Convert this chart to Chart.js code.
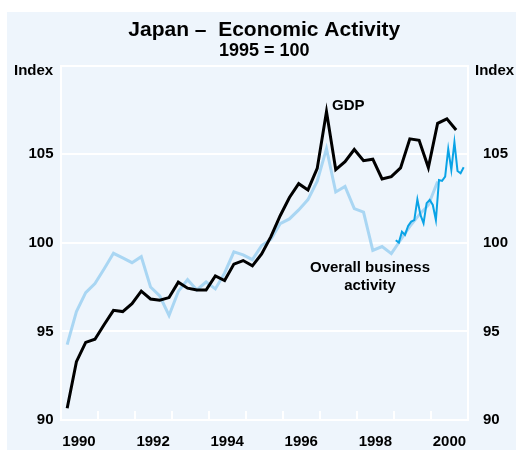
<!DOCTYPE html>
<html>
<head>
<meta charset="utf-8">
<script src="https://cdn.jsdelivr.net/npm/chart.js@4"></script>
<style>
  html, body { margin: 0; padding: 0; background: #fff; }
  canvas { display: block; }
</style>
</head>
<body>
<canvas id="chart" width="516" height="450"></canvas>
<script>
// Quarterly series start in 1990 Q1, the monthly series in January 1999
const firstQuarterYear = 1990;
const firstMonthYear = 1999;

// GDP, 1995 = 100, 1990 Q1 - 2000 Q3
const gdp = [
    90.66, 93.29, 94.38, 94.56,
    95.39, 96.19, 96.12, 96.57,
    97.27, 96.83, 96.76, 96.91,
    97.78, 97.44, 97.34, 97.34,
    98.13, 97.87, 98.80, 99.00,
    98.70, 99.37, 100.35, 101.53,
    102.56, 103.34, 102.99, 104.20,
    107.41, 104.13, 104.58, 105.27,
    104.64, 104.72, 103.61, 103.74,
    104.23, 105.87, 105.79, 104.25,
    106.75, 107.00, 106.37
];

// Overall business activity, quarterly, 1990 Q1 - 2000 Q1
const businessQuarterly = [
    94.26, 96.12, 97.19, 97.70,
    98.54, 99.41, 99.15, 98.88,
    99.22, 97.51, 97.00, 95.90,
    97.26, 97.92, 97.34, 97.79,
    97.40, 98.30, 99.49, 99.32,
    99.05, 99.85, 100.20, 101.08,
    101.35, 101.86, 102.44, 103.48,
    105.32, 102.87, 103.18, 101.93,
    101.74, 99.57, 99.79, 99.39,
    100.16, 100.93, 101.58, 102.14,
    103.46
];

// Overall business activity, monthly, Jan 1999 - Nov 2000
const businessMonthly = [
    100.15, 100.02, 100.63, 100.45, 100.95, 101.20,
    101.28, 102.46, 101.58, 101.11, 102.24, 102.42,
    102.14, 101.29, 103.55, 103.50, 103.74, 105.30,
    104.12, 105.68, 104.06, 103.93, 104.27
];

const yearTicks = [1990, 1991, 1992, 1993, 1994, 1995, 1996, 1997, 1998, 1999, 2000, 2001];
const yearLabels = [1990, 1992, 1994, 1996, 1998, 2000];
const indexTicks = [90, 95, 100, 105, 110];
const indexLabels = [90, 95, 100, 105];

const quarterPoints = values => values.map((v, i) => ({ x: firstQuarterYear + i / 4 + 0.18, y: v }));
const monthPoints = values => values.map((v, i) => ({ x: firstMonthYear + i / 12 + 0.05, y: v }));

const panel = "#eef5fc";
const family = 'Arial, "Liberation Sans", Helvetica, sans-serif';
const tickFont = { family: family, weight: "bold", size: 15 };

// light blue panel behind everything
const backdrop = {
    id: "backdrop",
    beforeDraw(chart) {
        const ctx = chart.ctx;
        ctx.save();
        ctx.fillStyle = "#ffffff";
        ctx.fillRect(0, 0, chart.width, chart.height);
        ctx.fillStyle = panel;
        ctx.fillRect(7, 12, chart.width - 7, chart.height - 12);
        ctx.restore();
    }
};

// short white year marks standing up from the bottom axis
const yearMarks = {
    id: "yearMarks",
    afterDatasetsDraw(chart) {
        const ctx = chart.ctx;
        const x = chart.scales.x;
        const bottom = chart.chartArea.bottom;
        ctx.save();
        ctx.strokeStyle = "#fff";
        ctx.lineWidth = 2;
        ctx.beginPath();
        yearTicks.forEach(v => {
            const px = Math.round(x.getPixelForValue(v));
            ctx.moveTo(px, bottom);
            ctx.lineTo(px, bottom - 9);
        });
        ctx.stroke();
        ctx.restore();
    }
};

// axis units and series names written on the chart
const notes = {
    id: "notes",
    afterDraw(chart) {
        const ctx = chart.ctx;
        ctx.save();
        ctx.fillStyle = "#000";
        ctx.font = "bold 15px " + family;
        ctx.textBaseline = "middle";
        ctx.textAlign = "left";
        ctx.fillText("Index", 14, 71);
        ctx.fillText("Index", 475, 71);
        ctx.fillText("GDP", 332, 106);
        ctx.textAlign = "center";
        ctx.fillText("Overall business", 370, 268);
        ctx.fillText("activity", 370, 286);
        ctx.restore();
    }
};

const yAxis = (position, width) => ({
    position: position,
    min: 90,
    max: 110,
    afterBuildTicks: s => { s.ticks = indexTicks.map(v => ({ value: v })); },
    afterFit: s => { s.width = width; },
    ticks: {
        color: "#000",
        font: tickFont,
        padding: 7,
        callback: v => indexLabels.includes(v) ? String(v) : ""
    },
    grid: position === "left"
        ? { color: "#fff", lineWidth: 2, drawTicks: false }
        : { display: false },
    border: { color: "#fff", width: 2 }
});

new Chart(document.getElementById("chart").getContext("2d"), {
    type: "line",
    data: {
        datasets: [{
            label: "GDP",
            data: quarterPoints(gdp),
            borderColor: "#000000",
            borderWidth: 3,
            pointRadius: 0,
            order: 1
        }, {
            label: "Overall business activity (monthly)",
            data: monthPoints(businessMonthly),
            borderColor: "#0aa3e6",
            borderWidth: 2,
            pointRadius: 0,
            order: 2
        }, {
            label: "Overall business activity",
            data: quarterPoints(businessQuarterly),
            borderColor: "#a9d6f3",
            borderWidth: 3,
            pointRadius: 0,
            order: 3
        }]
    },
    options: {
        responsive: false,
        animation: false,
        devicePixelRatio: 1,
        layout: { padding: 0 },
        plugins: {
            legend: { display: false },
            tooltip: { enabled: false },
            title: {
                display: true,
                fullSize: false,
                text: "Japan \u2013  Economic Activity",
                color: "#000",
                font: { family: family, weight: "bold", size: 21, lineHeight: 1 },
                padding: { top: 19.5, bottom: 0 }
            },
            subtitle: {
                display: true,
                fullSize: false,
                text: "1995 = 100",
                color: "#000",
                font: { family: family, weight: "bold", size: 18, lineHeight: 1 },
                padding: { top: 2, bottom: 5.2 }
            }
        },
        scales: {
            x: {
                type: "linear",
                min: 1990,
                max: 2001,
                afterBuildTicks: s => { s.ticks = yearTicks.map(v => ({ value: v })); },
                afterFit: s => { s.height = 30; },
                ticks: {
                    autoSkip: false,
                    maxRotation: 0,
                    color: "#000",
                    font: tickFont,
                    padding: 5,
                    labelOffset: 18.5,
                    callback: v => yearLabels.includes(v) ? String(v) : ""
                },
                grid: { display: false },
                border: { color: "#fff", width: 2 }
            },
            y: yAxis("left", 60.5),
            y2: yAxis("right", 48)
        }
    },
    plugins: [backdrop, yearMarks, notes]
});
</script>
</body>
</html>
